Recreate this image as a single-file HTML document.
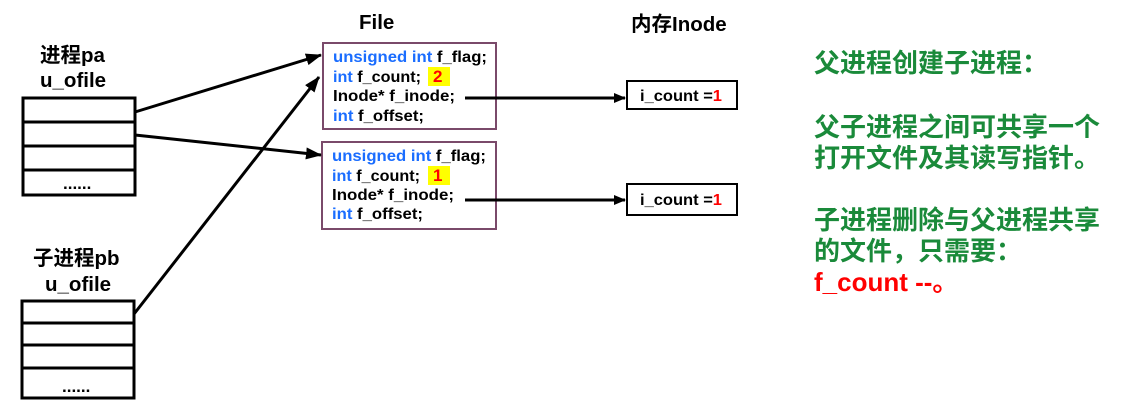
<!DOCTYPE html>
<html><head><meta charset="utf-8"><style>
html,body{margin:0;padding:0;background:#fff}
svg{display:block}
text{font-family:"Liberation Sans","Noto Sans CJK SC",sans-serif;font-weight:bold}
.b{fill:#1a6dff}.k{fill:#000}
</style></head><body>
<svg width="1134" height="409" viewBox="0 0 1134 409" xmlns="http://www.w3.org/2000/svg">
<defs><marker id="a" markerWidth="12" markerHeight="10" refX="11" refY="5" orient="auto" markerUnits="userSpaceOnUse"><path d="M0,0 L12,5 L0,10 z" fill="#000"/></marker>
<marker id="s" markerWidth="16" markerHeight="12" refX="15" refY="6" orient="auto" markerUnits="userSpaceOnUse"><path d="M0,0 L16,6 L0,12 z" fill="#000"/></marker></defs>
<text x="40" y="62" font-size="20.5">进程pa</text>
<text x="40" y="87" font-size="20.5">u_ofile</text>
<g stroke="#000" stroke-width="3" fill="none">
<rect x="23" y="98" width="112" height="97"/>
<line x1="23" y1="122" x2="135" y2="122"/><line x1="23" y1="146" x2="135" y2="146"/><line x1="23" y1="170" x2="135" y2="170"/>
<rect x="22" y="301" width="112" height="97"/>
<line x1="22" y1="323" x2="134" y2="323"/><line x1="22" y1="345" x2="134" y2="345"/><line x1="22" y1="368" x2="134" y2="368"/>
</g>
<text x="63" y="189" font-size="17">......</text>
<text x="62" y="392" font-size="17">......</text>
<text x="33" y="265" font-size="20.5">子进程pb</text>
<text x="45" y="291" font-size="20.5">u_ofile</text>
<text x="359" y="29" font-size="20.5">File</text>
<text x="631" y="31" font-size="20.5">内存Inode</text>
<g stroke="#7a4a6a" stroke-width="2" fill="none">
<rect x="323" y="43" width="173" height="86"/>
<rect x="322" y="142" width="174" height="87"/>
</g>
<rect x="428" y="67" width="22" height="19" fill="#ffff00"/>
<rect x="428" y="166" width="22" height="19" fill="#ffff00"/>
<g font-size="16">
<text x="333" y="62" textLength="154" lengthAdjust="spacingAndGlyphs"><tspan class="b">unsigned int</tspan> f_flag;</text>
<text x="333" y="82" textLength="88" lengthAdjust="spacingAndGlyphs"><tspan class="b">int</tspan> f_count;</text>
<text x="433" y="82" fill="#f00" font-size="17">2</text>
<text x="333" y="101" textLength="122" lengthAdjust="spacingAndGlyphs">Inode* f_inode;</text>
<text x="333" y="121" textLength="91" lengthAdjust="spacingAndGlyphs"><tspan class="b">int</tspan> f_offset;</text>
<text x="332" y="161" textLength="154" lengthAdjust="spacingAndGlyphs"><tspan class="b">unsigned int</tspan> f_flag;</text>
<text x="332" y="181" textLength="88" lengthAdjust="spacingAndGlyphs"><tspan class="b">int</tspan> f_count;</text>
<text x="433" y="181" fill="#f00" font-size="17">1</text>
<text x="332" y="200" textLength="122" lengthAdjust="spacingAndGlyphs">Inode* f_inode;</text>
<text x="332" y="219" textLength="91" lengthAdjust="spacingAndGlyphs"><tspan class="b">int</tspan> f_offset;</text>
</g>
<g stroke="#000" stroke-width="2" fill="none">
<rect x="627" y="81" width="110" height="28"/>
<rect x="627" y="184" width="110" height="31"/>
</g>
<text x="640" y="101" font-size="16" textLength="82" lengthAdjust="spacingAndGlyphs">i_count =<tspan fill="#f00">1</tspan></text>
<text x="640" y="205" font-size="16" textLength="82" lengthAdjust="spacingAndGlyphs">i_count =<tspan fill="#f00">1</tspan></text>
<g stroke="#000" stroke-width="3" fill="none">
<line x1="465" y1="98" x2="625" y2="98" marker-end="url(#a)"/>
<line x1="465" y1="200" x2="625" y2="200" marker-end="url(#a)"/>
<line x1="135" y1="112" x2="321" y2="55" marker-end="url(#s)"/>
<line x1="135" y1="135" x2="321" y2="155" marker-end="url(#s)"/>
<line x1="134" y1="314" x2="319" y2="77" marker-end="url(#s)"/>
</g>
<g font-size="26" fill="#1a8a3a">
<text x="814" y="72">父进程创建子进程：</text>
<text x="814" y="136">父子进程之间可共享一个</text>
<text x="814" y="167">打开文件及其读写指针。</text>
<text x="814" y="229">子进程删除与父进程共享</text>
<text x="814" y="260">的文件，只需要：</text>
<text x="814" y="291" fill="#f00">f_count --。</text>
</g>
</svg>
</body></html>
